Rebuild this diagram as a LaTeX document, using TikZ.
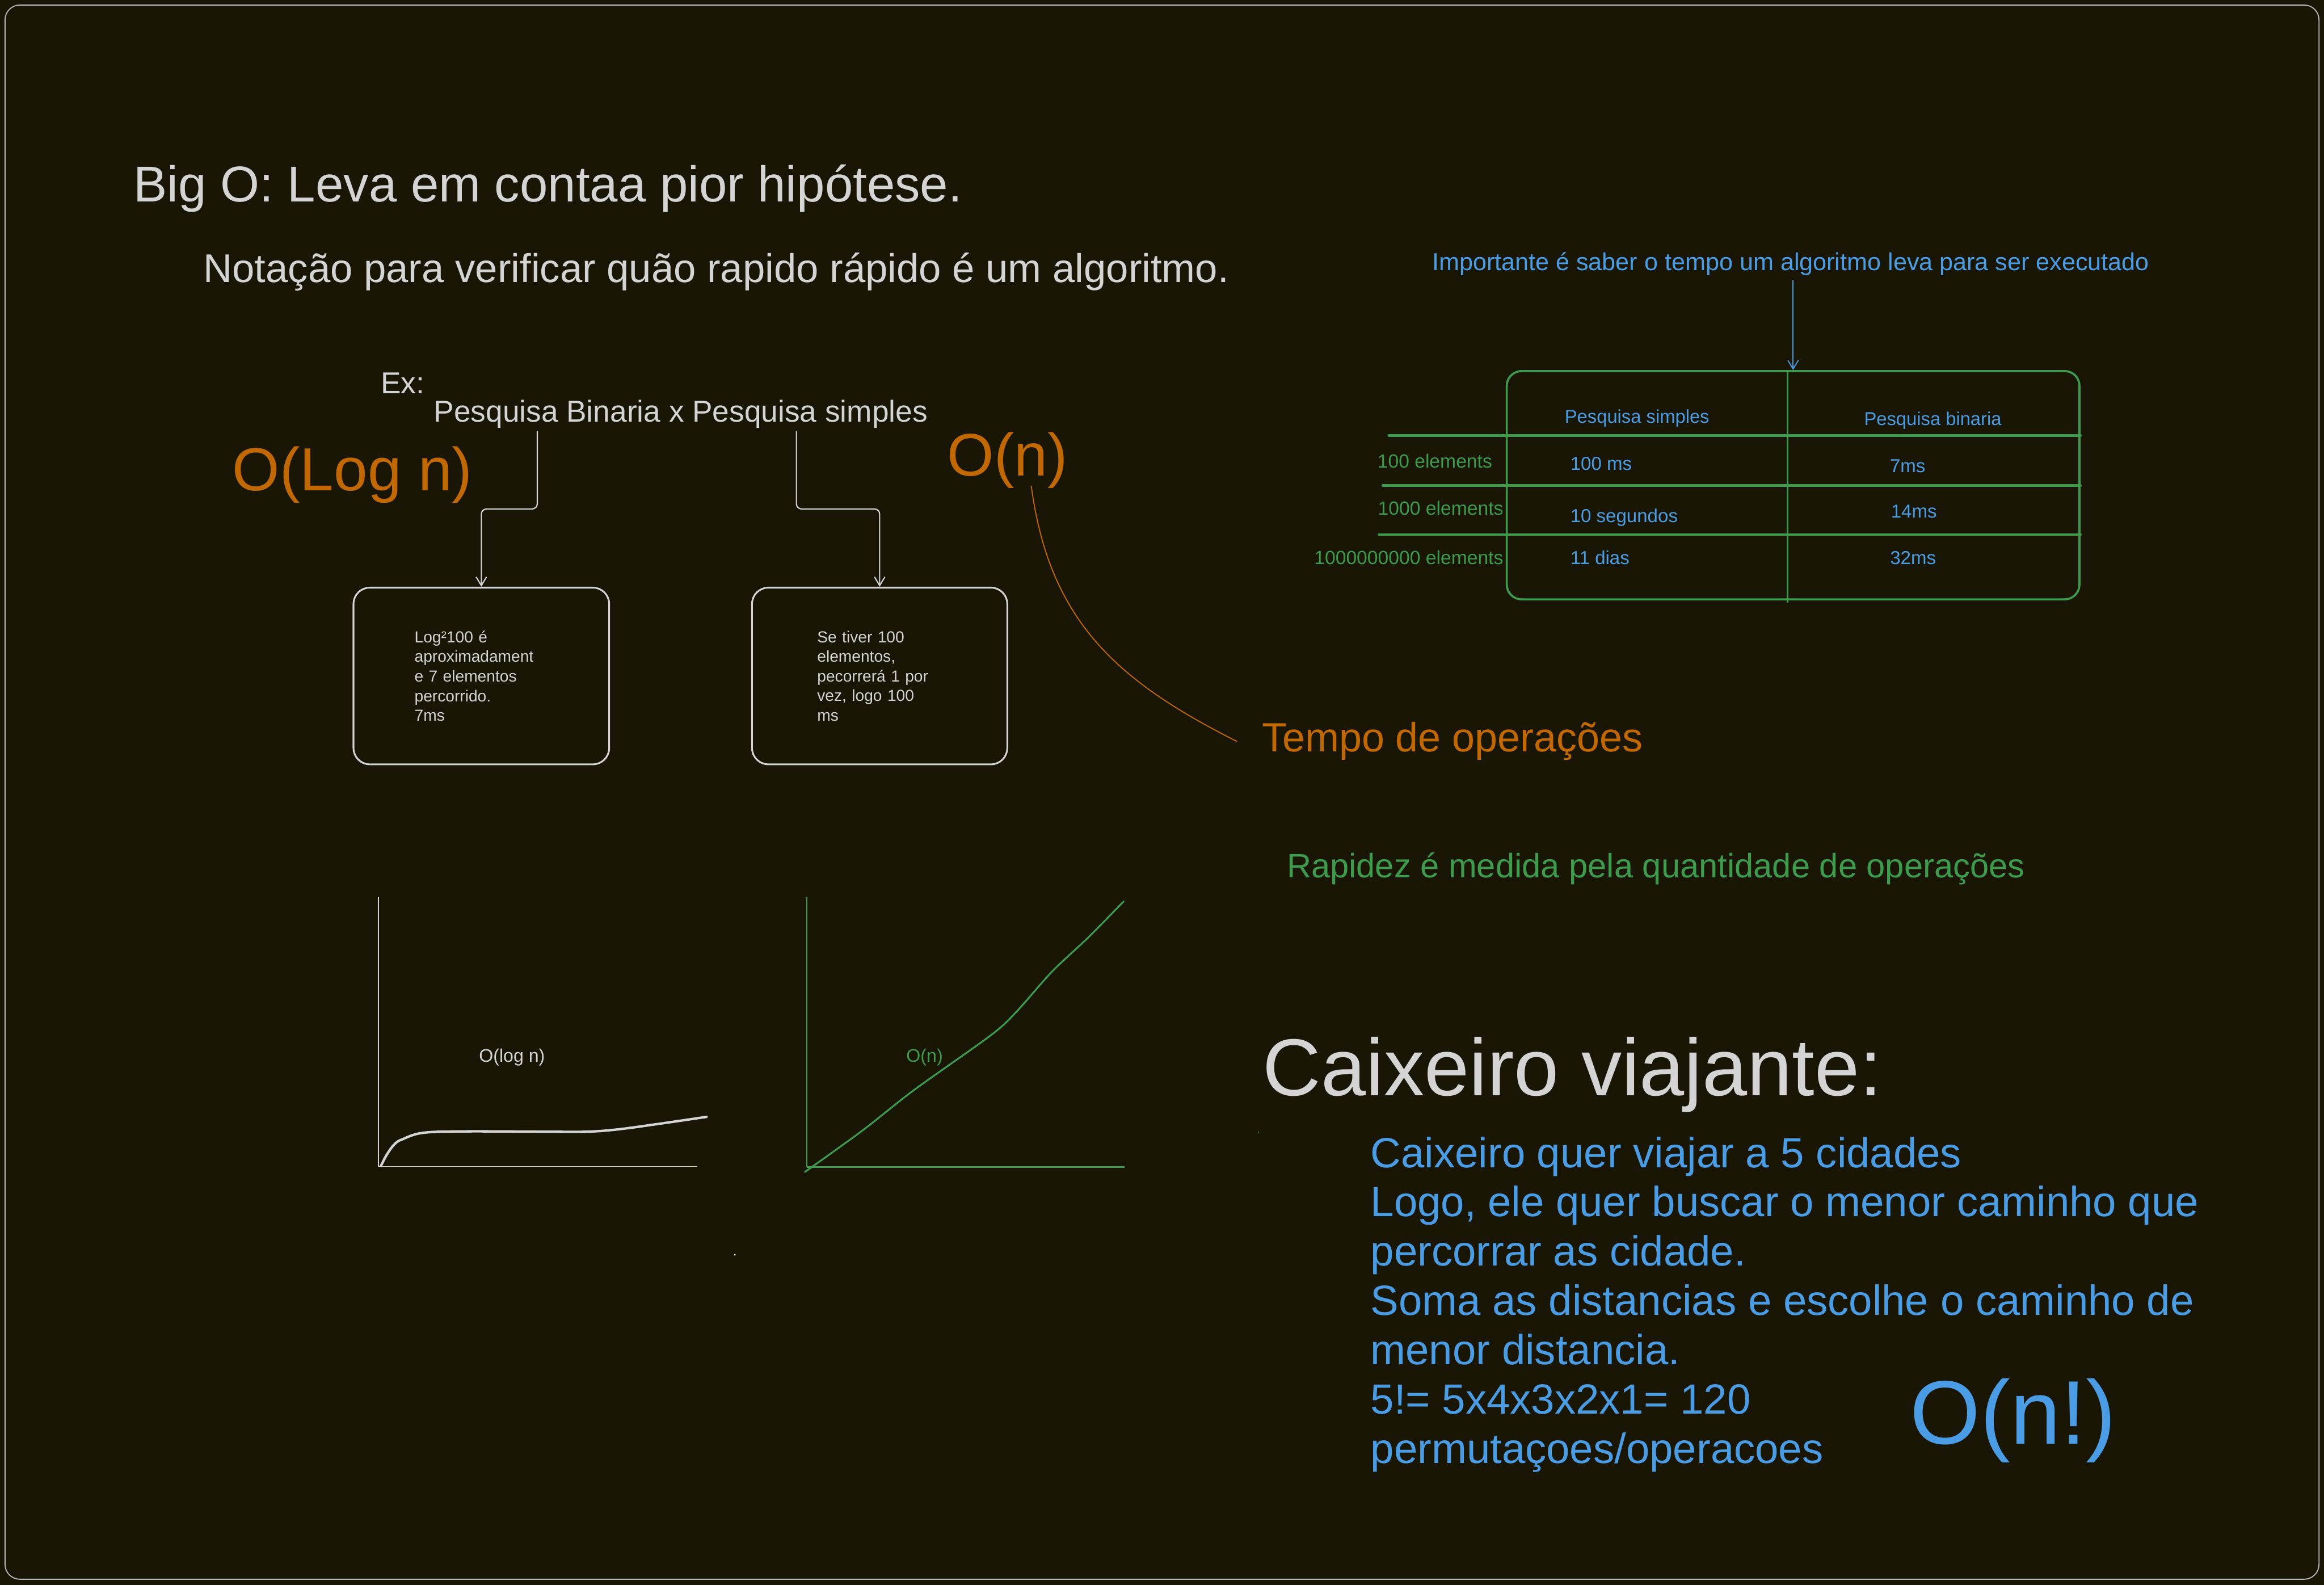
\documentclass[tikz,border=0pt]{standalone}
\usepackage{fontspec}
\setmainfont{Liberation Sans}
\usetikzlibrary{arrows.meta,calc}
\definecolor{bg}{HTML}{1A1606}
\definecolor{wh}{HTML}{D4D4D4}
\definecolor{bl}{HTML}{4A9CE5}
\definecolor{gr}{HTML}{3E9B4B}
\definecolor{og}{HTML}{C26800}
\definecolor{fr}{HTML}{B8B8B8}
\newcommand{\fsz}[2]{\fontsize{#1}{#2}\selectfont}
\tikzset{
  txt/.style={inner sep=0pt, anchor=base west, text=wh},
  notebox/.style={draw=wh, line width=1pt, rounded corners=0.33cm, inner ysep=0pt,
    align=left, text=wh, font=\fsz{9.2}{11.3}},
  conn/.style={draw=wh, line width=0.7pt, rounded corners=3pt,
    -{Straight Barb[length=5pt,width=6pt]}},
  barrow/.style={draw=bl, line width=0.6pt, -{Straight Barb[length=5pt,width=6pt]}},
  tline/.style={draw=gr, line width=1.2pt},
  hline/.style={draw=gr, line width=1.5pt, line cap=round},
  tbl/.style={draw=gr, line width=1.2pt, rounded corners=0.3cm, inner sep=0pt},
  cell/.style={txt, text=bl, font=\fsz{10.8}{13}},
  rowlab/.style={txt, anchor=base east, text=gr, font=\fsz{11}{13}},
}
\begin{document}
\begin{tikzpicture}[x=0.03cm,y=-0.03cm]
\fill[bg] (0,0) rectangle (1568,1069);
\useasboundingbox (0,0) rectangle (1568,1069);
\draw[fr, line width=0.6pt, rounded corners=0.3cm] (3.4,3.4) rectangle (1564.6,1065.3);

% headings
\node[txt, font=\fsz{29}{34}] (title) at (90,136) {Big O: Leva em contaa pior hipótese.};
\node[txt, font=\fsz{23.1}{28}] (nota) at (137,190.5) {Notação para verificar quão rapido rápido é um algoritmo.};
\node[txt, font=\fsz{17.4}{21}] (ex) at (256.8,265.6) {Ex:};
\node[txt, font=\fsz{17.4}{21}] (pesq) at (292.5,284.7) {Pesquisa Binaria x Pesquisa simples};
\node[txt, text=og, font=\fsz{35}{40}] (olog) at (156.7,331) {O(Log n)};
\node[txt, text=og, font=\fsz{34.6}{40}] (on) at (639,321) {O(n)};

% boxes
\node[notebox, minimum width=5.175cm, minimum height=3.576cm, inner xsep=1.236cm, text width=2.703cm]
  (b1) at (324.75,456) {Log²100 é\\aproximadament\\e 7 elementos\\percorrido.\\7ms};
\node[notebox, minimum width=5.166cm, minimum height=3.576cm, inner xsep=1.32cm, text width=2.526cm]
  (b2) at (593.5,456) {Se tiver 100\\elementos,\\pecorrerá 1 por\\vez, logo 100\\ms};

\coordinate (k1) at (362.5,0);
\coordinate (k2) at (537.3,0);
\draw[conn] ([yshift=-0.05cm]pesq.south -| k1) -- ++(0,52.5) -| (b1.north);
\draw[conn] ([yshift=-0.05cm]pesq.south -| k2) -- ++(0,52.5) -| (b2.north);

% graphs
\draw[wh, line width=0.45pt] (255.4,605.2) -- (255.4,786.9) -- (470.6,786.9);
\draw[wh, line width=1.4pt, line cap=round] plot[smooth, tension=0.6] coordinates
  {(257,786.5) (260.9,779) (266,772) (271.3,768.6) (285.2,764.2) (312.8,763.2) (368,763.4) (395.5,763.4) (416.3,761.9) (443.9,758.2) (476.7,753.4)};
\node[txt, font=\fsz{10.5}{12}] (glog) at (323,716.5) {O(log n)};

\draw[gr, line width=0.45pt] (544.3,605.2) -- (544.3,787.3);
\draw[gr, line width=0.9pt] (544.3,787.3) -- (758.8,787.3);
\draw[gr, line width=1pt, line cap=round] plot[smooth, tension=0.5] coordinates
  {(543,790.6) (581.9,762.6) (616.4,735.5) (668.3,698.5) (685.6,682.7) (709.7,655.5) (733.8,632.8) (758.2,608)};
\node[txt, text=gr, font=\fsz{10.5}{12}] (gn) at (611.3,716.5) {O(n)};

% table
\node[txt, text=bl, font=\fsz{14.1}{17}] (imp) at (966,182.5) {Importante é saber o tempo um algoritmo leva para ser executado};
\node[tbl, minimum width=11.592cm, minimum height=4.62cm] (tb) at (1209.8,327.3) {};
\draw[barrow] ([yshift=-0.09cm]imp.south -| tb.north) -- (tb.north);
\coordinate (dv) at (1206,0);
\draw[tline] (tb.north -| dv) -- ([yshift=-0.05cm]tb.south -| dv);
\coordinate (h1) at (937,293.7);
\coordinate (h2) at (933,327.6);
\coordinate (h3) at (930.3,360.6);
\draw[hline] (h1) -- (h1 -| tb.east);
\draw[hline] (h2) -- (h2 -| tb.east);
\draw[hline] (h3) -- (h3 -| tb.east);

\node[cell, font=\fsz{10.7}{13}] (hs) at (1055.5,285.2) {Pesquisa simples};
\node[cell, font=\fsz{10.7}{13}] (hb) at (1257.5,286.9) {Pesquisa binaria};
\node[rowlab] (r1) at (1007,315.8) {100 elements};
\node[rowlab] (r2) at (1014.5,347.5) {1000 elements};
\node[rowlab] (r3) at (1014.5,380.8) {1000000000 elements};
\node[cell] (c11) at (1059.3,317.2) {100 ms};
\node[cell] (c12) at (1274.9,318.5) {7ms};
\node[cell] (c21) at (1059.3,352.5) {10 segundos};
\node[cell] (c22) at (1275.6,349.5) {14ms};
\node[cell] (c31) at (1059.3,380.8) {11 dias};
\node[cell] (c32) at (1275,380.8) {32ms};

% tempo de operacoes
\node[txt, text=og, font=\fsz{23.5}{28}] (tempo) at (851.2,507.2) {Tempo de operações};
\draw[og, line width=0.6pt] ([xshift=0.48cm,yshift=0.06cm]on.south) .. controls (708,420) and (755,460) .. ([xshift=-0.5cm]tempo.west);

\node[txt, text=gr, font=\fsz{19.5}{23}] (rap) at (868,592) {Rapidez é medida pela quantidade de operações};

% caixeiro viajante
\node[txt, font=\fsz{46.5}{54}] (cv) at (851.8,739.2) {Caixeiro viajante:};
\node[txt, text=bl, align=left, font=\fsz{24.3}{28.4}] (par) at (924.5,987.1)
  {Caixeiro quer viajar a 5 cidades\\Logo, ele quer buscar o menor caminho que\\percorrar as cidade.\\Soma as distancias e escolhe o caminho de\\menor distancia.\\5!= 5x4x3x2x1= 120\\permutaçoes/operacoes};
\node[txt, text=bl, font=\fsz{52}{60}] (onf) at (1288.6,974) {O(n!)};

% specks
\fill[wh] (495.8,846.4) circle (0.02cm);
\fill[gr] (849,763.7) circle (0.015cm);
\end{tikzpicture}
\end{document}
